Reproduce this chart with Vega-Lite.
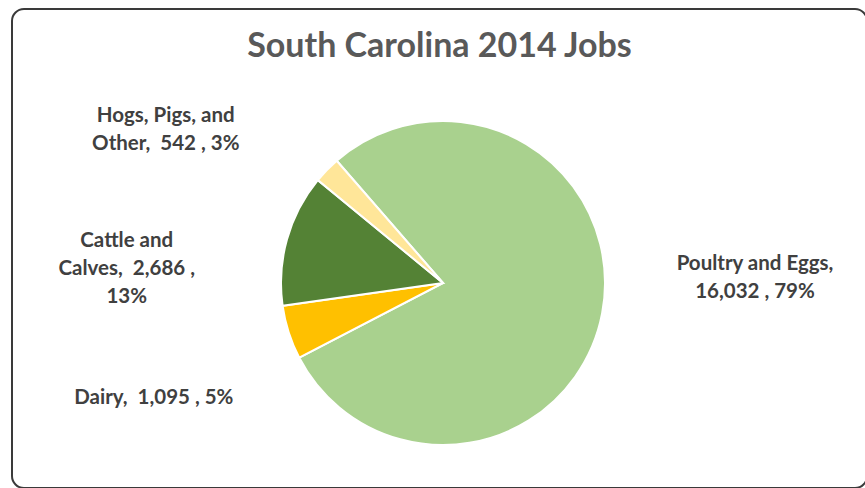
{
  "$schema": "https://vega.github.io/schema/vega-lite/v6.json",
  "width": 855,
  "height": 479,
  "autosize": {"type": "none"},
  "padding": {"left": 12, "top": 9, "right": 0, "bottom": 0},
  "background": "white",
  "config": {
    "view": {"stroke": null},
    "font": "Lato"
  },
  "title": {
    "text": "South Carolina 2014 Jobs",
    "font": "Lato",
    "fontSize": 34,
    "fontWeight": "bold",
    "color": "#595959",
    "anchor": "middle",
    "frame": "group",
    "baseline": "alphabetic",
    "offset": -113
  },
  "data": {
    "values": [
      {"category": "Poultry and Eggs", "jobs": 16032, "ord": 1, "label": ["Poultry and Eggs,", "16,032 , 79%"]},
      {"category": "Dairy", "jobs": 1095, "ord": 2, "label": ["Dairy,\u00a0\u00a01,095 , 5%"]},
      {"category": "Cattle and Calves", "jobs": 2686, "ord": 3, "label": ["Cattle and", "Calves,\u00a0\u00a02,686 ,", "13%"]},
      {"category": "Hogs, Pigs, and Other", "jobs": 542, "ord": 4, "label": ["Hogs, Pigs, and", "Other,\u00a0\u00a0542 , 3%"]}
    ]
  },
  "layer": [
    {
      "data": {"values": [{"frame": 1}]},
      "mark": {"type": "rect", "filled": false, "stroke": "#3a3a3a", "strokeWidth": 2, "cornerRadius": 12},
      "encoding": {}
    },
    {
      "mark": {"type": "arc", "outerRadius": 162, "stroke": "white", "strokeWidth": 2, "xOffset": 3.5, "yOffset": 34.5},
      "encoding": {
        "theta": {"field": "jobs", "type": "quantitative", "stack": true, "scale": {"range": [5.5676, 11.8508]}},
        "order": {"field": "ord", "type": "quantitative"},
        "color": {
          "field": "category",
          "type": "nominal",
          "legend": null,
          "scale": {
            "domain": ["Poultry and Eggs", "Dairy", "Cattle and Calves", "Hogs, Pigs, and Other"],
            "range": ["#A9D18E", "#FFC000", "#548235", "#FFE699"]
          }
        }
      }
    },
    {
      "mark": {"type": "text", "radius": 312, "dx": 5.5, "dy": -77, "xOffset": 3.5, "yOffset": 34.5, "fontSize": 20.5, "fontWeight": "bold", "color": "#404040", "lineHeight": 28},
      "encoding": {
        "theta": {"field": "jobs", "type": "quantitative", "stack": true},
        "order": {"field": "ord", "type": "quantitative"},
        "text": {"condition": {"test": "datum.ord === 1", "field": "label"}, "value": ""}
      }
    },
    {
      "mark": {"type": "text", "radius": 310, "dx": 6, "dy": 20.5, "xOffset": 3.5, "yOffset": 34.5, "fontSize": 20.5, "fontWeight": "bold", "color": "#404040", "lineHeight": 28},
      "encoding": {
        "theta": {"field": "jobs", "type": "quantitative", "stack": true},
        "order": {"field": "ord", "type": "quantitative"},
        "text": {"condition": {"test": "datum.ord === 2", "field": "label"}, "value": ""}
      }
    },
    {
      "mark": {"type": "text", "radius": 316, "dx": -12, "dy": 43, "xOffset": 3.5, "yOffset": 34.5, "fontSize": 20.5, "fontWeight": "bold", "color": "#404040", "lineHeight": 28},
      "encoding": {
        "theta": {"field": "jobs", "type": "quantitative", "stack": true},
        "order": {"field": "ord", "type": "quantitative"},
        "text": {"condition": {"test": "datum.ord === 3", "field": "label"}, "value": ""}
      }
    },
    {
      "mark": {"type": "text", "radius": 317, "dx": -50, "dy": 54, "xOffset": 3.5, "yOffset": 34.5, "fontSize": 20.5, "fontWeight": "bold", "color": "#404040", "lineHeight": 28},
      "encoding": {
        "theta": {"field": "jobs", "type": "quantitative", "stack": true},
        "order": {"field": "ord", "type": "quantitative"},
        "text": {"condition": {"test": "datum.ord === 4", "field": "label"}, "value": ""}
      }
    }
  ]
}
